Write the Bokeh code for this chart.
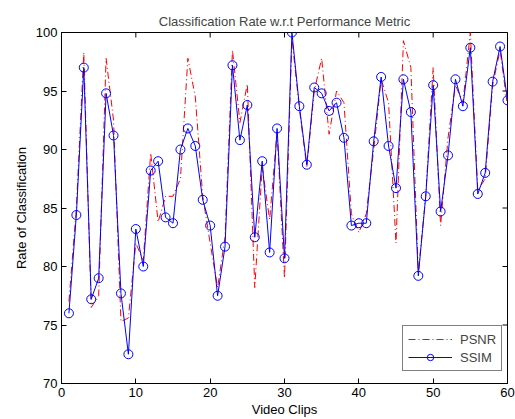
import math
from bokeh.plotting import figure
from bokeh.models import Range1d, Legend, LegendItem, FixedTicker
from bokeh.embed import file_html
from bokeh.resources import INLINE

clips = list(range(1, 61))
ssim = [76.0, 84.4, 97.0, 77.2, 79.0, 94.8, 91.2, 77.7, 72.5, 83.2,
        80.0, 88.2, 89.0, 84.2, 83.7, 90.0, 91.8, 90.3, 85.7, 83.5,
        77.5, 81.7, 97.2, 90.8, 93.8, 82.5, 89.0, 81.2, 91.8, 80.7,
        100.0, 93.7, 88.7, 95.3, 94.8, 93.3, 94.0, 91.0, 83.5, 83.7,
        83.7, 90.7, 96.2, 90.3, 86.7, 96.0, 93.2, 79.2, 86.0, 95.5,
        84.7, 89.5, 96.0, 93.7, 98.7, 86.2, 88.0, 95.8, 98.8, 94.2]
psnr = [77.0, 85.0, 98.3, 76.5, 77.5, 97.8, 92.5, 75.3, 75.6, 82.0,
        80.5, 89.7, 83.8, 86.0, 86.0, 87.5, 97.8, 94.5, 86.0, 82.0,
        78.2, 82.5, 98.5, 92.3, 95.6, 78.2, 88.5, 84.0, 91.5, 79.0,
        99.5, 93.5, 88.5, 95.0, 97.8, 91.3, 95.0, 94.0, 84.5, 82.9,
        84.5, 90.0, 96.0, 94.0, 82.0, 99.3, 97.0, 79.5, 86.0, 97.0,
        83.5, 91.0, 95.5, 94.0, 100.0, 86.5, 87.5, 95.5, 98.5, 93.7]
x_ticks = [0, 10, 20, 30, 40, 50, 60]
y_ticks = [70, 75, 80, 85, 90, 95, 100]
x_min, x_max = 0, 60
y_min, y_max = 70, 100

FONT = "Liberation Sans"

p = figure(width=515, height=419, output_backend="svg", toolbar_location=None,
           x_range=Range1d(x_min, x_max), y_range=Range1d(y_min, y_max),
           min_border_left=61, min_border_right=8, min_border_top=32,
           min_border_bottom=36,
           title="Classification Rate w.r.t Performance Metric")
p.title.text_font = FONT
p.title.text_font_size = "13px"
p.title.text_font_style = "normal"
p.title.align = "center"
p.title.standoff = 8
p.grid.visible = False
p.outline_line_color = "black"
p.outline_line_width = 1
p.background_fill_color = "white"
p.border_fill_color = "white"

for ax in (p.xaxis[0], p.yaxis[0]):
    ax.major_tick_in = 5
    ax.major_tick_out = 0
    ax.minor_tick_line_color = None
    ax.axis_line_color = "black"
    ax.major_tick_line_color = "black"
    ax.major_label_text_font = FONT
    ax.major_label_text_font_size = "13px"
    ax.major_label_text_color = "black"
    ax.axis_label_text_font = FONT
    ax.axis_label_text_font_size = "13px"
    ax.axis_label_text_font_style = "normal"
    ax.axis_label_text_color = "black"
    ax.major_label_standoff = 4
    ax.axis_label_standoff = 2

p.xaxis[0].ticker = FixedTicker(ticks=x_ticks)
p.yaxis[0].ticker = FixedTicker(ticks=y_ticks)
p.xaxis[0].axis_label = "Video Clips"
p.yaxis[0].axis_label = "Rate of Classification"
p.yaxis[0].axis_label_standoff = 4

# inward ticks on the top and right edges of the box (clipped to the frame)
p.scatter(x=x_ticks, y=[y_max] * len(x_ticks), marker="dash", angle=math.pi / 2,
          size=10, line_color="black", line_width=1)
p.scatter(x=[x_max] * len(y_ticks), y=y_ticks, marker="dash",
          size=10, line_color="black", line_width=1)

r_psnr = p.line(clips, psnr, line_color="#ff0000", line_width=1, line_dash="7 3 1 3")
r_ssim = p.line(clips, ssim, line_color="#0000ff", line_width=1)
r_circ = p.scatter(clips, ssim, marker="circle", size=9, line_color="#0000ff",
                   fill_color=None, line_width=1)

legend = Legend(items=[LegendItem(label="PSNR", renderers=[r_psnr]),
                       LegendItem(label="SSIM", renderers=[r_ssim, r_circ])],
                location=(341, 12), padding=5, spacing=2,
                glyph_width=44, glyph_height=16, label_height=16, label_standoff=8,
                label_text_font=FONT, label_text_font_size="13px",
                border_line_color="black", border_line_width=1,
                background_fill_alpha=1.0)
p.add_layout(legend, "center")

open("out.html", "w").write(file_html(p, INLINE))
